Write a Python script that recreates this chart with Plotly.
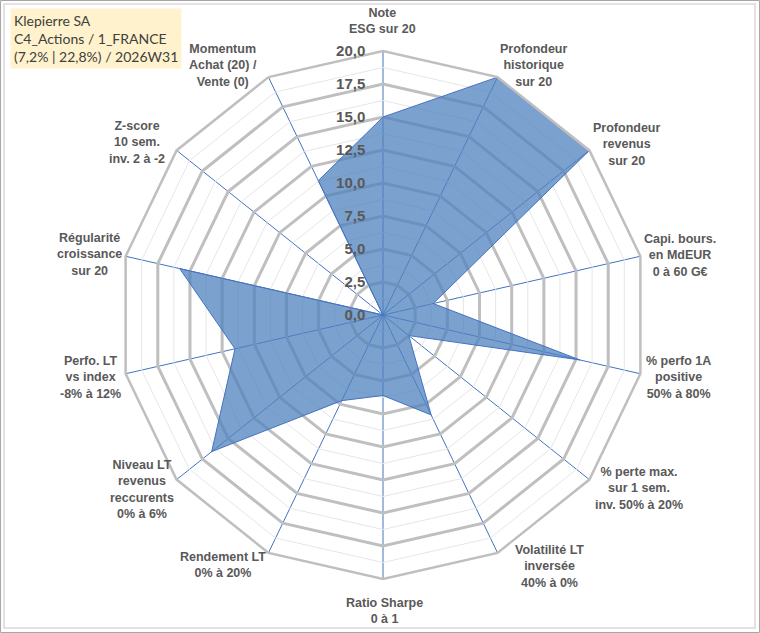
import plotly.graph_objects as go

# axes of the radar, clockwise from the top
categories = [
    "Note<br>ESG sur 20",
    "Profondeur<br>historique<br>sur 20",
    "Profondeur<br>revenus<br>sur 20",
    "Capi. bours.<br>en MdEUR<br>0 à 60 G€",
    "% perfo 1A<br>positive<br>50% à 80%",
    "% perte max.<br>sur 1 sem.<br>inv. 50% à 20%",
    "Volatilité LT<br>inversée<br>40% à 0%",
    "Ratio Sharpe<br>0 à 1",
    "Rendement LT<br>0% à 20%",
    "Niveau LT<br>revenus<br>reccurents<br>0% à 6%",
    "Perfo. LT<br>vs index<br>-8% à 12%",
    "Régularité<br>croissance<br>sur 20",
    "Z-score<br>10 sem.<br>inv. 2 à -2",
    "Momentum<br>Achat (20) /<br>Vente (0)",
]
scores = [15.0, 20.0, 20.0, 3.9, 15.3, 2.5, 8.4, 6.1, 7.2, 16.6, 11.5, 15.8, 0.0, 11.3]

major_ticks = [0, 2.5, 5, 7.5, 10, 12.5, 15, 17.5, 20]
minor_levels = [1.25, 3.75, 6.25, 8.75, 11.25, 13.75, 16.25, 18.75]

title_lines = ["Klepierre SA", "C4_Actions / 1_FRANCE", "(7,2% | 22,8%) / 2026W31"]

W, H = 760, 633
CX, CY, R = 383, 315, 264   # centre / radius of the radar, in pixels

# where each axis name sits (pixel centre of its text block), like in Excel
label_pos = [
    (383, 21), (533, 66), (626, 144), (680, 255), (678, 378), (639, 488),
    (549, 566), (384, 611), (223, 565), (142, 489), (90, 378), (89, 254),
    (137, 143), (223, 66),
]

grey_txt = "#595959"
closed_cats = categories + [categories[0]]

fig = go.Figure()

# faint rings between the major ones
for lvl in minor_levels:
    fig.add_trace(go.Scatterpolar(
        r=[lvl] * len(closed_cats), theta=closed_cats, mode="lines",
        line=dict(color="#E6E6E6", width=1), hoverinfo="skip", showlegend=False))

# the score polygon
fig.add_trace(go.Scatterpolar(
    r=scores + [scores[0]], theta=closed_cats, mode="lines",
    fill="toself", fillcolor="rgba(79,129,189,0.75)",
    line=dict(color="#4472C4", width=1), hoverinfo="skip", showlegend=False))

annotations = []
for name, (px, py) in zip(categories, label_pos):
    annotations.append(dict(
        xref="paper", yref="paper", x=px / W, y=1 - py / H,
        xanchor="center", yanchor="middle", align="center",
        text=name, showarrow=False,
        font=dict(family="Liberation Sans", size=12.5, color=grey_txt, weight="bold"),
    ))

annotations.append(dict(
    xref="paper", yref="paper", x=0.013, y=0.988,
    xanchor="left", yanchor="top", align="left",
    text="<br>".join(title_lines), showarrow=False,
    bgcolor="#FFF2CC", borderpad=3,
    font=dict(family="Lato", size=14, color="#404040"),
))

fig.update_layout(
    width=W, height=H,
    margin=dict(l=0, r=0, t=0, b=0),
    paper_bgcolor="white",
    separators=", ",
    showlegend=False,
    polar=dict(
        domain=dict(x=[(CX - R) / W, (CX + R) / W],
                    y=[1 - (CY + R) / H, 1 - (CY - R) / H]),
        bgcolor="white",
        gridshape="linear",
        angularaxis=dict(
            type="category", rotation=90, direction="clockwise",
            categoryorder="array", categoryarray=categories,
            showline=True, linecolor="#BFBFBF", linewidth=2.5,
            showgrid=True, gridcolor="#4472C4", gridwidth=1,
            ticks="", showticklabels=False,
        ),
        radialaxis=dict(
            range=[0, 20], tickvals=major_ticks, tickformat=".1f",
            angle=90, tickangle=90, side="counterclockwise",
            showline=False, ticks="outside", ticklen=12,
            tickcolor="rgba(0,0,0,0)",
            showgrid=True, gridcolor="#BFBFBF", gridwidth=2.5,
            tickfont=dict(family="Liberation Sans", size=15,
                          color=grey_txt, weight="bold"),
        ),
    ),
    shapes=[
        # outer edge of the picture
        dict(type="rect", xref="paper", yref="paper",
             x0=0.0007, x1=0.9993, y0=0.0008, y1=0.9992,
             line=dict(color="#A6A6A6", width=1)),
        # chart-area border, slightly inset
        dict(type="rect", xref="paper", yref="paper",
             x0=4 / W, x1=1 - 5 / W, y0=5 / H, y1=1 - 4 / H,
             line=dict(color="#D9D9D9", width=1.5)),
    ],
    annotations=annotations,
)

# drop the browser's default body margin so the figure sits at 0,0
fig.write_html("out.html", config={"displayModeBar": False},
               post_script="document.body.style.margin='0';")
